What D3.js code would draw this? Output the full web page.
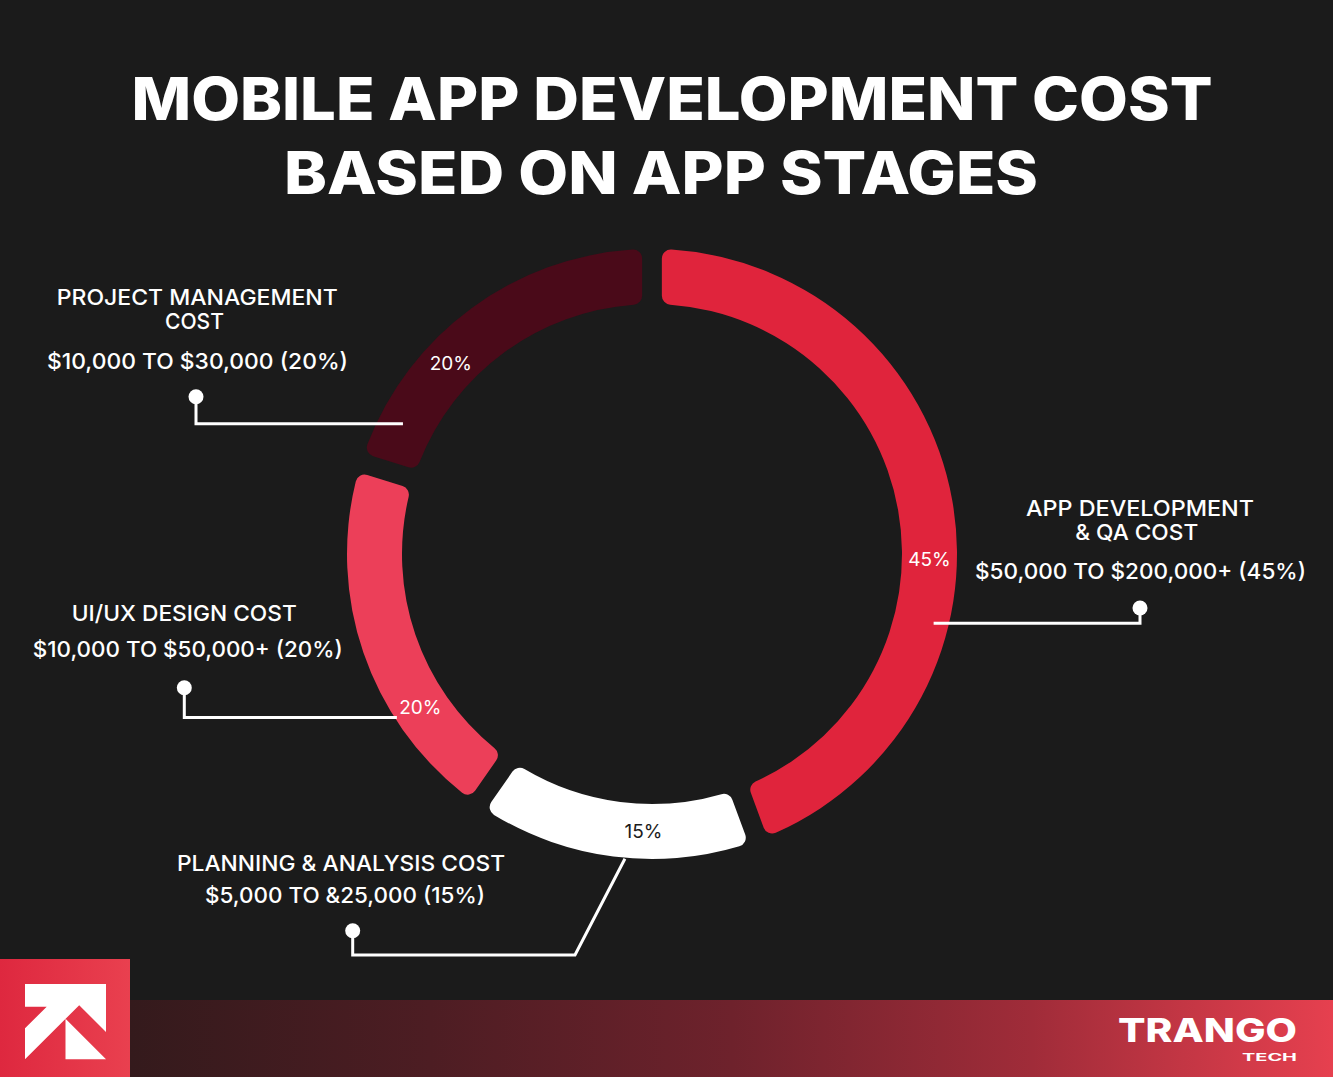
<!DOCTYPE html>
<html>
<head>
<meta charset="utf-8">
<script src="https://cdn.jsdelivr.net/npm/d3@7"></script>
<style>
  html, body { margin: 0; padding: 0; background: #1b1b1b; }
  svg { display: block; }
</style>
</head>
<body>
<svg id="chart" width="1333" height="1077"></svg>
<script>
// ---------------- DATA ----------------
const titleLines = ["MOBILE APP DEVELOPMENT COST", "BASED ON APP STAGES"];
const categories = ["APP DEVELOPMENT & QA COST", "PLANNING & ANALYSIS COST", "UI/UX DESIGN COST", "PROJECT MANAGEMENT COST"];
const costRanges = ["$50,000 TO $200,000+", "$5,000 TO &25,000", "$10,000 TO $50,000+", "$10,000 TO $30,000"];
const shares = [45, 15, 20, 20];
const shareLabels = ["45%", "15%", "20%", "20%"];
const brandName = "TRANGO";
const brandSub = "TECH";

// ---------------- LAYOUT ----------------
const W = 1333, H = 1077;
const cx = 652, cy = 554, rOuter = 305, rInner = 250;
const sliceColors = ["#e0243c", "#ffffff", "#ec3f59", "#4a0a19"];
const pctColors = ["#ffffff", "#1b1b1b", "#ffffff", "#ffffff"];
const pctFrac = [0.57, 0.40, 0.30, 0.36];     // where along each slice the % label sits
const leaderFrac = [0.65, 0.46, 0.31, 0.14];  // where along each slice the leader starts
const leaderR = [290, 306, 303, 281];
const dots = [[1140, 608], [352.7, 930.7], [184.3, 687.7], [196, 396.7]];
const elbows = [null, [575, 955], null, null];
const nameSplit = [2, 0, 0, 2];
const nameLayout = [
  [{x: 1140, y: 516, w: 228}, {x: 1136.7, y: 540, w: 123}],
  [{x: 341, y: 870.7, w: 328}],
  [{x: 184.3, y: 620.7, w: 225}],
  [{x: 197.3, y: 305, w: 281}, {x: 194.5, y: 329.3, w: 59}]
];
const rangeLayout = [
  {x: 1140.5, y: 579, w: 331},
  {x: 345, y: 903.3, w: 280},
  {x: 187.8, y: 657, w: 310},
  {x: 197.5, y: 369, w: 301}
];

const svg = d3.select("#chart");
const defs = svg.append("defs");

svg.append("rect").attr("width", W).attr("height", H).attr("fill", "#1b1b1b");

function fitText(sel, x, y, w) {
  sel.attr("x", x - w / 2).attr("y", y)
     .attr("text-anchor", "start")
     .attr("textLength", w)
     .attr("lengthAdjust", "spacingAndGlyphs");
}

// ---------------- TITLE ----------------
const titleLayout = [{x: 672, y: 119.5, w: 1081}, {x: 661, y: 193.5, w: 754}];
titleLines.forEach((t, i) => {
  const el = svg.append("text")
    .text(t)
    .attr("fill", "#ffffff")
    .attr("font-family", "Inter, 'Open Sans', sans-serif")
    .attr("font-weight", 800)
    .attr("font-size", 59);
  fitText(el, titleLayout[i].x, titleLayout[i].y, titleLayout[i].w);
});

// ---------------- DONUT ----------------
const data = categories.map((c, i) => ({
  name: c, value: shares[i], range: costRanges[i], pct: shareLabels[i], i
}));
const pie = d3.pie().sort(null).value(d => d.value).padAngle(0.05);
const arc = d3.arc().innerRadius(rInner).outerRadius(rOuter).cornerRadius(9);
const arcs = pie(data);
const color = d3.scaleOrdinal().domain(categories).range(sliceColors);

const g = svg.append("g").attr("transform", `translate(${cx},${cy})`);
g.selectAll("path.slice")
  .data(arcs)
  .join("path")
  .attr("class", "slice")
  .attr("d", arc)
  .attr("fill", d => color(d.data.name));

// ---------------- LEADERS ----------------
const leaderG = svg.append("g");
arcs.forEach((a, i) => {
  const ang = a.startAngle + leaderFrac[i] * (a.endAngle - a.startAngle);
  const p = d3.pointRadial(ang, leaderR[i]);
  const ax = cx + p[0], ay = cy + p[1];
  const dot = dots[i];
  const path = d3.path();
  path.moveTo(ax, ay);
  if (elbows[i]) {
    path.lineTo(elbows[i][0], elbows[i][1]);
    path.lineTo(dot[0], elbows[i][1]);
  } else {
    path.lineTo(dot[0], ay);
  }
  path.lineTo(dot[0], dot[1]);
  leaderG.append("path")
    .attr("d", path.toString())
    .attr("fill", "none")
    .attr("stroke", "#ffffff")
    .attr("stroke-width", 3);
  leaderG.append("circle")
    .attr("cx", dot[0]).attr("cy", dot[1]).attr("r", 7.5)
    .attr("fill", "#ffffff");
});

// ---------------- PERCENT LABELS ----------------
arcs.forEach((a, i) => {
  const ang = a.startAngle + pctFrac[i] * (a.endAngle - a.startAngle);
  const p = d3.pointRadial(ang, (rInner + rOuter) / 2);
  svg.append("text")
    .text(a.data.pct)
    .attr("x", cx + p[0])
    .attr("y", cy + p[1] + 7)
    .attr("text-anchor", "middle")
    .attr("fill", pctColors[i])
    .attr("font-family", "Inter, 'Open Sans', sans-serif")
    .attr("font-weight", 400)
    .attr("font-size", 19);
});

// ---------------- CATEGORY TEXTS ----------------
data.forEach((d, i) => {
  const words = d.name.split(" ");
  const lines = nameSplit[i] > 0
    ? [words.slice(0, nameSplit[i]).join(" "), words.slice(nameSplit[i]).join(" ")]
    : [d.name];
  lines.forEach((ln, j) => {
    const L = nameLayout[i][j];
    const el = svg.append("text")
      .text(ln)
      .attr("fill", "#ffffff")
      .attr("font-family", "Inter, 'Open Sans', sans-serif")
      .attr("font-weight", 500)
      .attr("font-size", 22);
    fitText(el, L.x, L.y, L.w);
  });
  const R = rangeLayout[i];
  const el = svg.append("text")
    .text(`${d.range} (${d.pct})`)
    .attr("fill", "#ffffff")
    .attr("font-family", "Inter, 'Open Sans', sans-serif")
    .attr("font-weight", 500)
    .attr("font-size", 22);
  fitText(el, R.x, R.y, R.w);
});

// ---------------- FOOTER ----------------
const bandGrad = defs.append("linearGradient").attr("id", "bandGrad")
  .attr("x1", "0%").attr("x2", "100%").attr("y1", "0%").attr("y2", "0%");
[["0%", "#341a1c"], ["25%", "#4d1d23"], ["50%", "#6e222c"], ["75%", "#a02c39"], ["100%", "#e6404f"]]
  .forEach(s => bandGrad.append("stop").attr("offset", s[0]).attr("stop-color", s[1]));
svg.append("rect").attr("x", 130).attr("y", 1000).attr("width", W - 130).attr("height", 77)
  .attr("fill", "url(#bandGrad)");

const sqGrad = defs.append("linearGradient").attr("id", "sqGrad")
  .attr("x1", "0%").attr("x2", "100%").attr("y1", "0%").attr("y2", "0%");
[["0%", "#de283f"], ["100%", "#e9404f"]]
  .forEach(s => sqGrad.append("stop").attr("offset", s[0]).attr("stop-color", s[1]));
svg.append("rect").attr("x", 0).attr("y", 959).attr("width", 130).attr("height", 118)
  .attr("fill", "url(#sqGrad)");

const logo1 = [[25,984],[106,984],[106,1032],[79.2,1005.2],[25,1059.3],[25,1028.3],[46.7,1006.7],[25,1006.7]];
const logo2 = [[65.5,1018.8],[65.5,1059.3],[106,1059.3]];
[logo1, logo2].forEach(pts => {
  svg.append("path").attr("d", d3.line()(pts) + "Z").attr("fill", "#ffffff");
});

const bn = svg.append("text").text(brandName)
  .attr("fill", "#ffffff")
  .attr("font-family", "Inter, 'Open Sans', sans-serif")
  .attr("font-weight", 800)
  .attr("font-size", 33);
fitText(bn, 1207.5, 1042, 179);
const bs = svg.append("text").text(brandSub)
  .attr("fill", "#ffffff")
  .attr("font-family", "Inter, 'Open Sans', sans-serif")
  .attr("font-weight", 700)
  .attr("font-size", 10);
fitText(bs, 1269.5, 1061, 55);
</script>
</body>
</html>
